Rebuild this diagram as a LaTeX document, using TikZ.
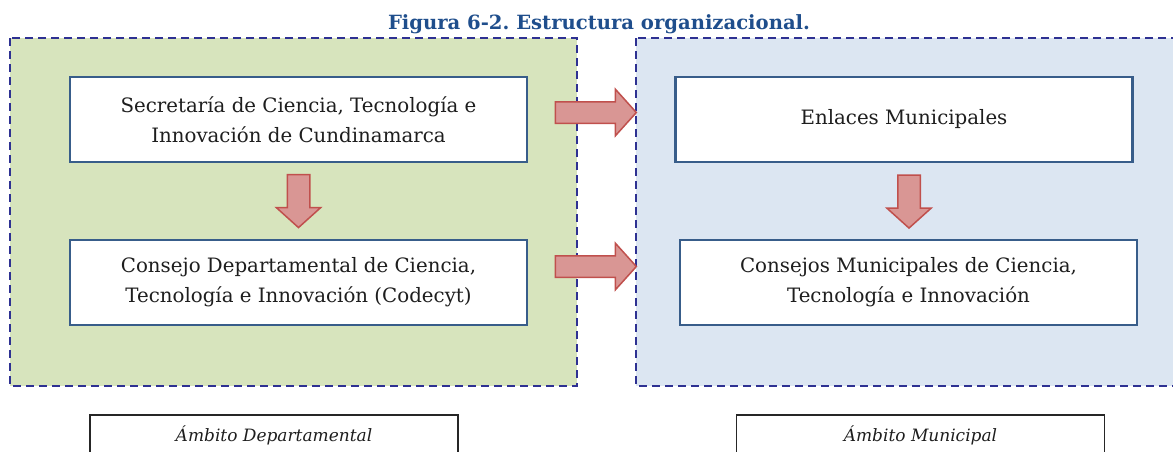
\documentclass[tikz,border=0pt]{standalone}
\usepackage{fontspec}
\setmainfont{DejaVu Serif}
\frenchspacing
\usetikzlibrary{shapes.arrows}
\definecolor{titleblue}{HTML}{1F4E8C}
\definecolor{dashnavy}{HTML}{2E3192}
\definecolor{greenfill}{HTML}{D7E4BD}
\definecolor{bluefill}{HTML}{DCE6F2}
\definecolor{boxline}{HTML}{385D8A}
\definecolor{arrfill}{HTML}{D99694}
\definecolor{arrline}{HTML}{C0504D}
\definecolor{txtcol}{HTML}{1E1E1E}
\begin{document}
\begin{tikzpicture}[x=1pt,y=-1pt,
  panel/.style={draw=dashnavy, line width=2.4pt, dash pattern=on 8pt off 5pt},
  orgbox/.style={draw=boxline, line width=2.5pt, fill=white, align=center,
    font=\fontsize{19.8}{30}\selectfont, text=txtcol, inner sep=0pt,
    minimum width=457pt, minimum height=85pt},
  blockarrow/.style={single arrow, draw=arrline, fill=arrfill, line width=1.5pt,
    inner xsep=0pt, inner ysep=10pt, single arrow head extend=12.5pt,
    single arrow tip angle=96, outer sep=0pt},
  scopebox/.style={draw=black!85, line width=1.5pt, fill=white, inner sep=0pt,
    minimum width=368pt, minimum height=60pt, anchor=north},
  scopetext/.style={font=\fontsize{17}{22}\selectfont\itshape, text=txtcol},
]
\useasboundingbox (0,0) rectangle (1173,451);
\begin{scope}
\clip (0,0) rectangle (1173,451);
% panels
\draw[panel, fill=greenfill] (10,38) rectangle (577,386);
\draw[panel, fill=bluefill] (636,38) rectangle (1190,386);

% title
\node[anchor=base, font=\fontsize{19.6}{24}\selectfont\bfseries, text=titleblue, inner sep=0pt]
  (title) at (599,29) {Figura 6-2. Estructura organizacional.};

% boxes
\node[orgbox] (sec) at (298.5,119.5) {Secretaría de Ciencia, Tecnología e\\Innovación de Cundinamarca};
\node[orgbox] (codecyt) at (298.5,282.5) {Consejo Departamental de Ciencia,\\Tecnología e Innovación (Codecyt)};
\node[orgbox] (enl) at (904,119.5) {Enlaces Municipales};
\node[orgbox] (cmun) at (908.5,282.5) {Consejos Municipales de Ciencia,\\Tecnología e Innovación};

% block arrows
\node[blockarrow, minimum height=81pt] (a1) at (591,112.5) {};
\node[blockarrow, minimum height=81pt] (a2) at (591,266.5) {};
\node[blockarrow, minimum height=53pt, rotate=-90, inner ysep=10.5pt, single arrow head extend=11pt] (a3) at (298.5,196) {};
\node[blockarrow, minimum height=53pt, rotate=-90, inner ysep=10.5pt, single arrow head extend=11pt] (a4) at (909,196.5) {};

% scope labels
\node[scopebox] (sdep) at (274,414) {};
\node[scopetext, anchor=base] (tdep) at (sdep.north |- 0,441) {Ámbito Departamental};
\node[scopebox] (smun) at (920.5,414) {};
\node[scopetext, anchor=base] (tmun) at (smun.north |- 0,441) {Ámbito Municipal};
\end{scope}
\end{tikzpicture}
\end{document}
